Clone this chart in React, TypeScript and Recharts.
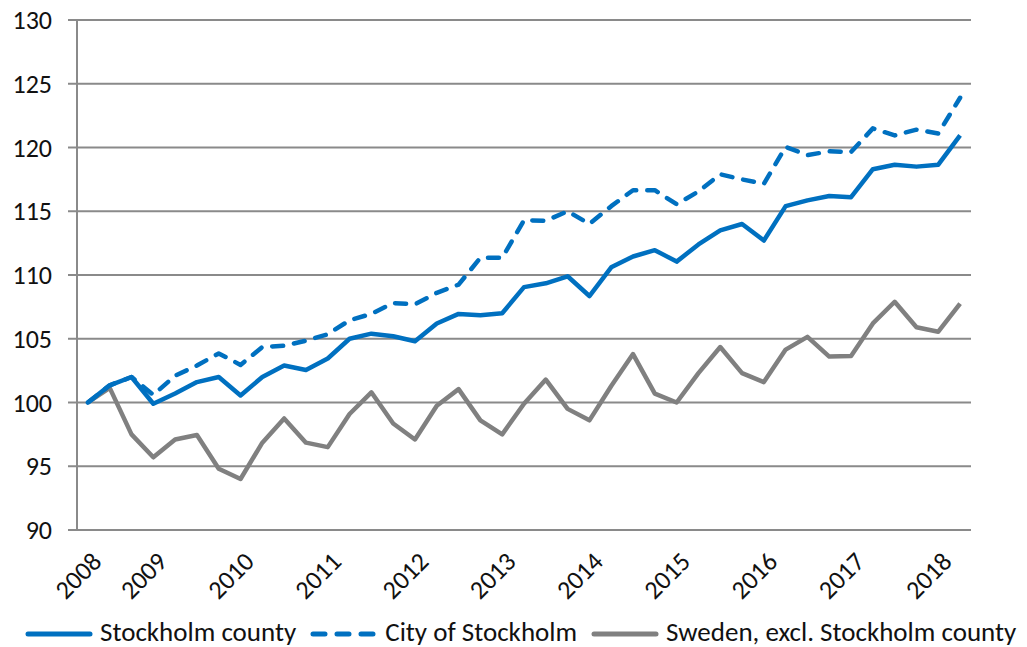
import React from 'react';
import { LineChart, Line, XAxis, YAxis, CartesianGrid, Legend } from 'recharts';

const periods = [
  '2008Q2', '2008Q3', '2008Q4',
  '2009Q1', '2009Q2', '2009Q3', '2009Q4',
  '2010Q1', '2010Q2', '2010Q3', '2010Q4',
  '2011Q1', '2011Q2', '2011Q3', '2011Q4',
  '2012Q1', '2012Q2', '2012Q3', '2012Q4',
  '2013Q1', '2013Q2', '2013Q3', '2013Q4',
  '2014Q1', '2014Q2', '2014Q3', '2014Q4',
  '2015Q1', '2015Q2', '2015Q3', '2015Q4',
  '2016Q1', '2016Q2', '2016Q3', '2016Q4',
  '2017Q1', '2017Q2', '2017Q3', '2017Q4',
  '2018Q1', '2018Q2',
];

const stockholmCounty = [
  100, 101.35, 102.0, 99.9, 100.7, 101.6, 102.0, 100.55, 102.0, 102.9, 102.55,
  103.45, 105.0, 105.4, 105.2, 104.8, 106.2, 106.95, 106.85, 107.0, 109.05,
  109.35, 109.9, 108.35, 110.6, 111.45, 111.95, 111.05, 112.4, 113.5, 114.0,
  112.7, 115.4, 115.85, 116.2, 116.1, 118.3, 118.65, 118.5, 118.65, 120.95,
];

const cityOfStockholm = [
  100, 101.35, 102.0, 100.6, 102.1, 102.9, 103.85, 102.95, 104.35, 104.45, 104.85,
  105.35, 106.45, 106.95, 107.8, 107.7, 108.6, 109.25, 111.35, 111.35, 114.3,
  114.25, 115.0, 114.0, 115.4, 116.65, 116.65, 115.55, 116.55, 117.9, 117.5,
  117.15, 120.05, 119.4, 119.7, 119.65, 121.5, 120.95, 121.4, 121.1, 123.9,
];

const swedenExclCounty = [
  100, 101.15, 97.5, 95.7, 97.1, 97.45, 94.8, 94.0, 96.85, 98.75, 96.85,
  96.5, 99.1, 100.8, 98.35, 97.1, 99.75, 101.05, 98.6, 97.5, 99.9,
  101.8, 99.5, 98.6, 101.3, 103.8, 100.7, 100.0, 102.3, 104.35, 102.3,
  101.6, 104.15, 105.15, 103.6, 103.65, 106.2, 107.9, 105.9, 105.55, 107.75,
];

const yTicks = [90, 95, 100, 105, 110, 115, 120, 125, 130];

const BLUE = '#0070C0';
const GREY = '#808080';
const AXIS = '#8A8A8A';
const FONT = "Carlito, 'Liberation Sans', Arial, sans-serif";

const data = periods.map((p, i) => ({
  i,
  period: p,
  county: stockholmCounty[i],
  city: cityOfStockholm[i],
  rest: swedenExclCounty[i],
}));

// year labels sit on the first quarter of each year (plus the very first point)
const yearTicks = data.filter(d => d.i === 0 || d.period.endsWith('Q1')).map(d => d.i);
// tick marks between the categories, like Excel
const boundaryTicks = [...data.map(d => d.i - 0.5), data.length - 0.5];
const xDomain = [-0.5, data.length - 0.5];

const YearTick = (props: any) => {
  const { x, y, payload } = props;
  const label = periods[payload.value].slice(0, 4);
  return (
    <g transform={`translate(${x + 3},${y}) rotate(-45)`}>
      <text textAnchor="end" dy="0.66em" fontSize={26} fontFamily={FONT} fill="#111">
        {label}
      </text>
    </g>
  );
};

const legendItems = [
  { name: 'Stockholm county', color: BLUE, dash: undefined },
  { name: 'City of Stockholm', color: BLUE, dash: '12 12' },
  { name: 'Sweden, excl. Stockholm county', color: GREY, dash: undefined },
];

const LegendContent = () => (
  <div style={{
    display: 'flex', alignItems: 'center', paddingLeft: 17, height: 30, lineHeight: '30px',
    fontFamily: FONT, fontSize: 27, color: '#111',
  }}>
    {legendItems.map(item => (
      <div key={item.name} style={{ display: 'flex', alignItems: 'center', marginRight: 14 }}>
        <svg width={68} height={10} style={{ marginTop: 4 }}>
          <line x1={3} y1={5} x2={65} y2={5} stroke={item.color} strokeWidth={5}
            strokeLinecap="round" strokeDasharray={item.dash} />
        </svg>
        <span style={{ marginLeft: 7, whiteSpace: 'nowrap' }}>{item.name}</span>
      </div>
    ))}
  </div>
);

const App: React.FC = () => {
  return (
    <div style={{ width: 1011, height: 647, marginTop: -8 }}>
      <LineChart width={1011} height={647} data={data} margin={{ top: 20, right: 48, left: 0, bottom: 0 }}>
        <CartesianGrid xAxisId="main" vertical={false} stroke={AXIS} strokeWidth={2} />
        <XAxis
          xAxisId="marks"
          type="number"
          dataKey="i"
          domain={xDomain}
          ticks={boundaryTicks}
          interval={0}
          tick={false}
          tickSize={7}
          height={0}
          axisLine={{ stroke: AXIS, strokeWidth: 2 }}
          tickLine={{ stroke: AXIS, strokeWidth: 2 }}
        />
        <XAxis
          xAxisId="main"
          type="number"
          dataKey="i"
          domain={xDomain}
          ticks={yearTicks}
          interval={0}
          axisLine={false}
          tickLine={false}
          tickSize={0}
          tickMargin={21}
          height={87}
          tick={<YearTick />}
        />
        <YAxis
          domain={[90, 130]}
          ticks={yTicks}
          interval={0}
          width={69}
          tickSize={9}
          tickMargin={16}
          axisLine={{ stroke: AXIS, strokeWidth: 2 }}
          tickLine={{ stroke: AXIS, strokeWidth: 2 }}
          tick={{ fontSize: 26, fontFamily: FONT, fill: '#111' }}
        />
        <Line xAxisId="main" type="linear" dataKey="rest" name="Sweden, excl. Stockholm county" stroke={GREY}
          strokeWidth={4.5} dot={false} isAnimationActive={false} strokeLinejoin="round" />
        <Line xAxisId="main" type="linear" dataKey="county" name="Stockholm county" stroke={BLUE}
          strokeWidth={4.5} dot={false} isAnimationActive={false} strokeLinejoin="round" />
        <Line xAxisId="main" type="linear" dataKey="city" name="City of Stockholm" stroke={BLUE}
          strokeWidth={4.5} strokeDasharray="11 11" strokeLinecap="round" dot={false}
          isAnimationActive={false} strokeLinejoin="round" />
        <Legend verticalAlign="bottom" height={30} content={<LegendContent />} />
      </LineChart>
    </div>
  );
};

export default App;
